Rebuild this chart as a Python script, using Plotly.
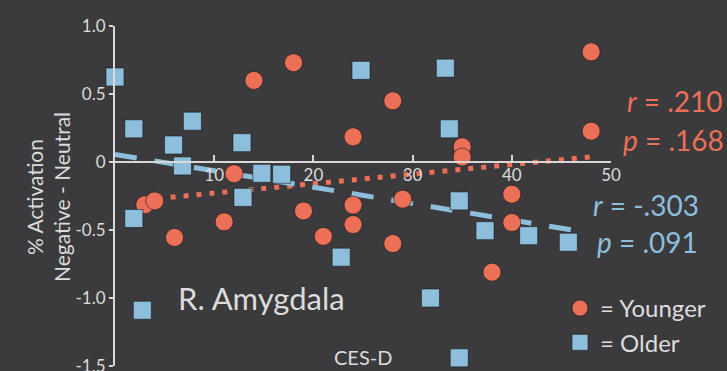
import plotly.graph_objects as go

# CES-D score vs. % activation (negative - neutral), right amygdala
younger_cesd = [3, 4, 6, 11, 12, 14, 18, 19, 21, 24, 24, 24, 28, 28, 29, 35, 35, 38, 40, 40, 48, 48]
younger_act = [-0.315, -0.286, -0.555, -0.44, -0.086, 0.60, 0.73, -0.36, -0.547, 0.185, -0.317,
               -0.46, 0.45, -0.60, -0.273, 0.112, 0.037, -0.81, -0.237, -0.445, 0.81, 0.227]

older_cesd = [0, 1.9, 1.9, 2.75, 5.9, 7.8, 6.8, 12.8, 12.9, 14.8, 16.8, 22.8, 24.8, 33.3,
              33.7, 34.7, 37.3, 41.7, 45.7, 31.8, 34.7]
older_act = [0.625, 0.244, -0.415, -1.09, 0.125, 0.30, -0.029, 0.142, -0.26, -0.083, -0.09,
             -0.70, 0.674, 0.69, 0.244, -0.286, -0.505, -0.542, -0.59, -1.0, -1.44]

# regression line end points
younger_fit_x = [3, 48]
younger_fit_y = [-0.278, 0.037]
older_fit_x = [0, 46.1]
older_fit_y = [0.056, -0.50]

x_ticks = [10, 20, 30, 40, 50]
y_ticks = [1.0, 0.5, 0, -0.5, -1.0, -1.5]
y_tick_text = ["1.0", "0.5", "0", "-0.5", "-1.0", "-1.5"]

ORANGE = "#ec6f58"
BLUE = "#8dbfdc"
BG = "#3b3a3c"
TXT = "#dcdcdc"
AXIS = "#d8d8d8"
FONT = "Lato"

W, H = 727, 371
# plot frame in pixels
x0_px, x50_px = 115, 611
y_top_px, y_bot_px = 26, 366
y_lo, y_hi = -1.5, 1.0
ydom = [(H - y_bot_px) / H, (H - y_top_px) / H]
xaxis_pos = ydom[0] + (0 - y_lo) / (y_hi - y_lo) * (ydom[1] - ydom[0])


def px(x, y):
    """Pixel position -> paper fraction."""
    return x / W, 1 - y / H


fig = go.Figure()

fig.add_trace(go.Scatter(
    x=younger_fit_x, y=younger_fit_y, mode="lines",
    line=dict(color=ORANGE, width=5, dash="5px,8px"),
    showlegend=False, hoverinfo="skip", cliponaxis=False))
fig.add_trace(go.Scatter(
    x=older_fit_x, y=older_fit_y, mode="lines",
    line=dict(color=BLUE, width=5, dash="22px,18px"),
    showlegend=False, hoverinfo="skip", cliponaxis=False))

fig.add_trace(go.Scatter(
    x=younger_cesd, y=younger_act, mode="markers", name="= Younger",
    marker=dict(symbol="circle", size=18, color=ORANGE,
                line=dict(color="rgba(20,20,20,0.55)", width=1)),
    cliponaxis=False))
fig.add_trace(go.Scatter(
    x=older_cesd, y=older_act, mode="markers", name="= Older",
    marker=dict(symbol="square", size=18, color=BLUE,
                line=dict(color="rgba(20,20,20,0.55)", width=1)),
    cliponaxis=False))


def label(text, x, y, size, color, xanchor="center", yanchor="middle", angle=0):
    fx, fy = px(x, y)
    return dict(text=text, x=fx, y=fy, xref="paper", yref="paper",
                xanchor=xanchor, yanchor=yanchor, textangle=angle,
                showarrow=False, font=dict(family=FONT, size=size, color=color))


annotations = [
    label("% Activation<br>Negative - Neutral", 48, 197, 21, TXT, angle=-90),
    label("CES-D", 363, 371, 20, TXT, yanchor="bottom"),
    label("R. Amygdala", 261, 298, 31, TXT),
    label("<i>r</i> = .210", 724, 101, 28, ORANGE, xanchor="right"),
    label("<i>p</i> = .168", 726, 140, 28, ORANGE, xanchor="right"),
    label("<i>r</i> = -.303", 701, 205, 28, BLUE, xanchor="right"),
    label("<i>p</i> = .091", 700, 242, 28, BLUE, xanchor="right"),
]

lx, ly = px(560, 286)

fig.update_layout(
    width=W, height=H,
    margin=dict(l=0, r=0, t=0, b=0, autoexpand=False),
    paper_bgcolor=BG, plot_bgcolor=BG,
    annotations=annotations,
    legend=dict(x=lx, y=ly, xanchor="left", yanchor="top",
                bgcolor="rgba(0,0,0,0)", font=dict(family=FONT, size=24, color=TXT),
                itemsizing="trace", tracegroupgap=0),
    xaxis=dict(domain=[x0_px / W, x50_px / W], range=[0, 50],
               anchor="free", position=xaxis_pos, automargin=False,
               showgrid=False, zeroline=False, showline=True,
               linecolor=AXIS, linewidth=2,
               tickvals=x_ticks, ticks="inside", ticklen=6, tickwidth=1.5,
               tickcolor=AXIS, ticklabelstandoff=-2,
               tickfont=dict(family=FONT, size=17, color=TXT)),
    yaxis=dict(domain=ydom, range=[y_lo, y_hi], anchor="x", automargin=False,
               showgrid=False, zeroline=False, showline=True,
               linecolor=AXIS, linewidth=2,
               tickvals=y_ticks, ticktext=y_tick_text, ticklabeloverflow="allow",
               ticks="outside", ticklen=4, tickwidth=1.5, tickcolor=AXIS,
               tickfont=dict(family=FONT, size=17, color=TXT)),
    showlegend=True,
)

fig.write_html("out.html")
